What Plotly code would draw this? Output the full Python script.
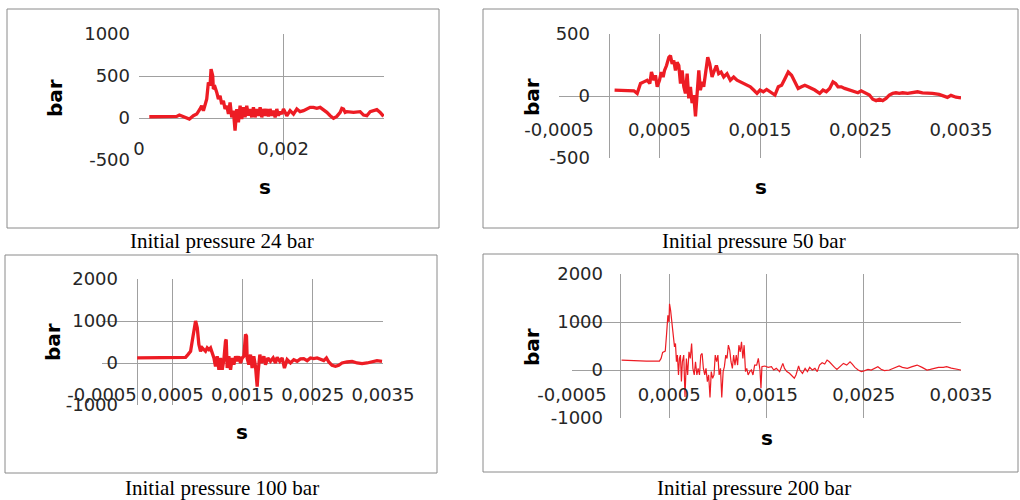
import plotly.graph_objects as go

# ---------------- data (time in s, pressure in bar) ----------------
t24 = [0.000143, 0.000292, 0.000523, 0.000560, 0.000616, 0.000699, 0.000755, 0.000801, 0.000847, 0.000870,
       0.000894, 0.000917, 0.000940, 0.000963, 0.000986, 0.001000, 0.001023, 0.001032, 0.001056, 0.001079,
       0.001102, 0.001125, 0.001148, 0.001171, 0.001194, 0.001218, 0.001241, 0.001264, 0.001287, 0.001310,
       0.001333, 0.001357, 0.001380, 0.001403, 0.001426, 0.001449, 0.001472, 0.001495, 0.001519, 0.001542,
       0.001565, 0.001588, 0.001611, 0.001634, 0.001658, 0.001681, 0.001704, 0.001727, 0.001750, 0.001773,
       0.001796, 0.001819, 0.001843, 0.001866, 0.001889, 0.001912, 0.001935, 0.001958, 0.001982, 0.002005,
       0.002051, 0.002097, 0.002144, 0.002190, 0.002236, 0.002283, 0.002329, 0.002375, 0.002421, 0.002468,
       0.002514, 0.002560, 0.002607, 0.002653, 0.002699, 0.002745, 0.002792, 0.002815, 0.002838, 0.002861,
       0.002884, 0.002977, 0.003069, 0.003116, 0.003162, 0.003208, 0.003255, 0.003301, 0.003347, 0.003394]
p24 = [15, 19, 19, 35, 15, -12, 27, 47, 107, 146,
       87, 146, 226, 424, 384, 583, 503, 345, 365, 305,
       226, 265, 166, 206, 107, 146, 47, 186, 8, 87,
       -151, 107, -52, 146, -12, 127, 8, 146, 27, 107,
       8, 127, 8, 107, 27, 127, 8, 107, 27, 107,
       19, 107, 27, 87, 8, 107, 27, 75, 47, 107,
       27, 87, 47, 107, 75, 87, 107, 127, 127, 115,
       127, 99, 67, 27, -4, 19, 67, 115, 107, 67,
       75, 67, 75, 35, 27, 75, 87, 99, 67, 19]

t50 = [0.000053, 0.000146, 0.000245, 0.000278, 0.000311, 0.000344, 0.000377, 0.000404, 0.000420, 0.000444,
       0.000460, 0.000477, 0.000500, 0.000517, 0.000536, 0.000550, 0.000570, 0.000593, 0.000609, 0.000626,
       0.000642, 0.000659, 0.000675, 0.000692, 0.000709, 0.000725, 0.000742, 0.000758, 0.000775, 0.000791,
       0.000808, 0.000824, 0.000841, 0.000858, 0.000874, 0.000891, 0.000907, 0.000924, 0.000940, 0.000957,
       0.000980, 0.001000, 0.001023, 0.001040, 0.001066, 0.001089, 0.001113, 0.001139, 0.001172, 0.001205,
       0.001238, 0.001271, 0.001305, 0.001338, 0.001371, 0.001404, 0.001437, 0.001470,
       0.001500, 0.001533, 0.001566, 0.001599, 0.001649, 0.001682, 0.001715, 0.001748, 0.001781, 0.001814,
       0.001847, 0.001880, 0.001913, 0.001946, 0.001979, 0.002012, 0.002045, 0.002094, 0.002127, 0.002160,
       0.002193, 0.002226, 0.002252, 0.002276, 0.002309, 0.002342, 0.002375, 0.002424, 0.002474, 0.002507,
       0.002540, 0.002589, 0.002622, 0.002655, 0.002688, 0.002721, 0.002754, 0.002787, 0.002820, 0.002853,
       0.002886, 0.002919, 0.002969, 0.003018, 0.003068, 0.003117, 0.003167, 0.003216, 0.003282, 0.003332,
       0.003365, 0.003400, 0.003450, 0.003500]
p50 = [48, 42, 42, 21, 101, 114, 127, 101, 193, 127,
       167, 74, 127, 193, 153, 206, 246, 312, 325, 259,
       286, 206, 272, 246, 101, 206, 74, 21, 180, -19,
       74, -58, 8, -164, -19, 206, 48, 114, 74, 180,
       312, 259, 153, 193, 246, 180, 193, 153, 180, 127,
       153, 127, 114, 101, 87, 74, 48, 21,
       48, 34, 53, 34, 8, 74, 87, 140, 193, 167,
       114, 61, 74, 87, 74, 61, 48, 21, 48, 34,
       61, 114, 101, 74, 74, 61, 53, 42, 26, 42,
       26, 8, -26, -37, -26, -37, -19, 8, 21, 26,
       21, 26, 21, 26, 34, 26, 26, 21, 13, 0,
       -11, 5, -10, -15]

t100 = [0.0, 0.000192, 0.000381, 0.000571, 0.000690, 0.000723, 0.000761, 0.000784, 0.000808, 0.000832,
        0.000856, 0.000879, 0.000903, 0.000927, 0.000951, 0.000974, 0.000998, 0.001022, 0.001045, 0.001069,
        0.001093, 0.001116, 0.001140, 0.001164, 0.001187, 0.001211, 0.001235, 0.001258, 0.001268, 0.001282,
        0.001306, 0.001330, 0.001353, 0.001377, 0.001401, 0.001424, 0.001448, 0.001472, 0.001495, 0.001519,
        0.001543, 0.001557, 0.001566, 0.001590, 0.001614, 0.001637, 0.001661, 0.001685, 0.001709, 0.001723,
        0.001747, 0.001770, 0.001804, 0.001827, 0.001861, 0.001898, 0.001936, 0.001969, 0.001993, 0.002031,
        0.002064, 0.002097, 0.002135, 0.002183, 0.002230, 0.002278, 0.002325, 0.002372, 0.002420, 0.002467,
        0.002514, 0.002562, 0.002609, 0.002657, 0.002695, 0.002728, 0.002775, 0.002823, 0.002870, 0.002917,
        0.002988, 0.003060, 0.003131, 0.003202, 0.003273, 0.003344, 0.003415, 0.003486]
p100 = [120, 120, 120, 120, 136, 200, 280, 520, 800, 1000,
        840, 440, 280, 360, 320, 280, 360, 320, 360, 240,
        120, -80, 160, -160, 120, -160, 80, 520, 560, -120,
        160, -160, 120, -40, 160, 40, 160, 0, 120, 160,
        680, 640, 120, -40, 200, -120, 160, -80, -560, -200,
        200, 0, 160, -40, 120, 40, 120, 0, 136, 40,
        120, -120, 80, 0, 80, 40, 96, 104, 56, 120,
        104, 120, 80, 56, 120, 24, -56, -80, -56, 0,
        24, 40, 0, -16, 0, 24, 56, 40]

t200 = [0.000010, 0.000128, 0.000264, 0.000399, 0.000416, 0.000432, 0.000459, 0.000473, 0.000486, 0.000497,
        0.000503, 0.000514, 0.000527, 0.000541, 0.000554, 0.000564, 0.000574, 0.000584, 0.000595, 0.000605,
        0.000615, 0.000625, 0.000635, 0.000649, 0.000662, 0.000676, 0.000689, 0.000703, 0.000716, 0.000730,
        0.000743, 0.000757, 0.000770, 0.000784, 0.000797, 0.000811, 0.000824, 0.000838, 0.000851, 0.000865,
        0.000878, 0.000892, 0.000905, 0.000919, 0.000932, 0.000946, 0.000960, 0.000973, 0.000987, 0.001000,
        0.001013, 0.001027, 0.001040, 0.001054, 0.001067, 0.001081, 0.001094, 0.001108, 0.001122, 0.001135,
        0.001149, 0.001162, 0.001176, 0.001189, 0.001203, 0.001216, 0.001230, 0.001243, 0.001257, 0.001270,
        0.001284, 0.001297, 0.001311, 0.001328, 0.001344, 0.001361, 0.001378,
        0.001399, 0.001416, 0.001433, 0.001443, 0.001453, 0.001483, 0.001517, 0.001551, 0.001574, 0.001601,
        0.001635, 0.001668, 0.001685, 0.001709, 0.001736, 0.001763, 0.001786, 0.001803, 0.001830, 0.001843,
        0.001870, 0.001897, 0.001921, 0.001944, 0.001971, 0.001998, 0.002022, 0.002045, 0.002072, 0.002099,
        0.002123, 0.002146, 0.002173, 0.002200, 0.002224, 0.002258, 0.002291, 0.002325, 0.002359, 0.002382,
        0.002409, 0.002443, 0.002476, 0.002510, 0.002544, 0.002577, 0.002611, 0.002645, 0.002678, 0.002712,
        0.002763, 0.002813, 0.002864, 0.002897, 0.002948, 0.002998, 0.003049, 0.003100, 0.003150, 0.003184,
        0.003218, 0.003268, 0.003318, 0.003352, 0.003400, 0.003450, 0.003500]
p200 = [207, 193, 186, 186, 241, 366, 393, 759, 1138, 1000,
        1380, 1242, 1000, 724, 483, 552, 172, 310, -103, 241,
        310, -241, 172, 310, -560, 241, -103, 379, 241, 552,
        34, -103, 172, -103, 34, -103, 310, 345, 34, -103,
        34, -241, -103, -570, -34, -172, -103, 310, 172, 310,
        -103, 34, -570, -34, 69, 310, 241, 517, 414, 172,
        34, 310, 103, 310, 103, 517, 379, 586, 241, 517,
        -34, 34, -103, -34, 0, -103, 103,
        103, 241, 0, -379, 69, 83, 55, 69, 0, 34,
        -34, 138, 34, -34, -69, -138, -172, -103, 83, 0,
        -69, 34, -34, 55, 0, 34, -34, 103, 152, 124,
        207, 172, 103, 55, 14, 69, 138, 103, 172, 124,
        55, 0, -34, -14, 14, 0, 34, 69, 14, -14,
        0, 34, 83, 55, 34, 69, 103, 55, 0, 14,
        34, 55, 55, 69, 40, 20, 0]

# tick labels
x24_vals = [0, 0.002]
x24_text = ["0", "0,002"]
x_vals = [-0.0005, 0.0005, 0.0015, 0.0025, 0.0035]
x_text = ["-0,0005", "0,0005", "0,0015", "0,0025", "0,0035"]
y24_vals = [-500, 0, 500, 1000]
y24_text = ["-500", "0", "500", "1000"]
y50_vals = [-500, 0, 500]
y50_text = ["-500", "0", "500"]
y_big_vals = [-1000, 0, 1000, 2000]
y_big_text = ["-1000", "0", "1000", "2000"]
captions = ["Initial pressure 24 bar", "Initial pressure 50 bar",
            "Initial pressure 100 bar", "Initial pressure 200 bar"]

# ---------------- layout geometry (pixels) ----------------
W, H = 1020, 500
def fx(px):
    return px / W
def fy(py):
    return 1 - py / H

RED = "#ed1c24"
GRID = "#a0a0a0"
BOX = "#8a8a8a"
TICKFONT = dict(family="DejaVu Sans", size=18, color="#262626")

panels = [
    dict(t=t24, p=p24, area=(139, 384, 34, 160), xr=[0, 0.0034], yr=[-500, 1000],
         xv=x24_vals, xt=x24_text, yv=y24_vals, yt=y24_text, xlab=147, ylab=127,
         box=(7, 439, 9, 228), s=(265, 187), bar=(55, 98), cap=(222, 241), lw=3.3),
    dict(t=t50, p=p50, area=(559, 961, 34, 158), xr=[-0.0005, 0.0035], yr=[-500, 500],
         xv=x_vals, xt=x_text, yv=y50_vals, yt=y50_text, xlab=128, ylab=587,
         box=(483, 1018, 9, 228), s=(761, 187), bar=(532, 97), cap=(754, 241), lw=3.3),
    dict(t=t100, p=p100, area=(102, 383, 279, 405), xr=[-0.0005, 0.0035], yr=[-1000, 2000],
         xv=x_vals, xt=x_text, yv=y_big_vals, yt=y_big_text, xlab=393, ylab=115,
         box=(5, 437, 255, 473), s=(242, 432), bar=(53, 342), cap=(222, 488), lw=3.3),
    dict(t=t200, p=p200, area=(572, 961, 274, 418), xr=[-0.0005, 0.0035], yr=[-1000, 2000],
         xv=x_vals, xt=x_text, yv=y_big_vals, yt=y_big_text, xlab=393, ylab=600,
         box=(483, 1018, 254, 472), s=(767, 438), bar=(532, 347), cap=(754, 488), lw=1.2),
]

fig = go.Figure()
layout = dict(width=W, height=H, margin=dict(l=0, r=0, t=0, b=0, pad=0, autoexpand=False),
              autosize=False, paper_bgcolor="white", plot_bgcolor="white", showlegend=False,
              shapes=[], annotations=[])

for i, pn in enumerate(panels, start=1):
    xa = "x" if i == 1 else f"x{i}"
    ya = "y" if i == 1 else f"y{i}"
    fig.add_trace(go.Scatter(x=pn["t"], y=pn["p"], mode="lines", xaxis=xa, yaxis=ya,
                             line=dict(color=RED, width=pn["lw"]), hoverinfo="skip"))
    l, r, t, b = pn["area"]
    xkey = "xaxis" if i == 1 else f"xaxis{i}"
    ykey = "yaxis" if i == 1 else f"yaxis{i}"
    xaxis = dict(domain=[fx(l), fx(r)], range=pn["xr"], anchor="free", automargin=False,
                 position=fy(pn["xlab"] - 11), tickmode="array", tickvals=pn["xv"], ticktext=pn["xt"],
                 ticks="", showline=False, tickfont=TICKFONT, fixedrange=True)
    if i == 1:
        xaxis.update(showgrid=False, zeroline=False,
                     minor=dict(tickmode="array", tickvals=[0.002], showgrid=True,
                                gridcolor=GRID, gridwidth=1, ticks=""))
    else:
        xaxis.update(showgrid=True, gridcolor=GRID, gridwidth=1,
                     zeroline=True, zerolinecolor=GRID, zerolinewidth=1)
    yaxis = dict(domain=[fy(b), fy(t)], range=pn["yr"], anchor="free", automargin=False,
                 position=fx(pn["ylab"] + 3), tickmode="array", tickvals=pn["yv"], ticktext=pn["yt"],
                 ticks="", showline=False, tickfont=TICKFONT, showgrid=True, gridcolor=GRID,
                 gridwidth=1, zeroline=True, zerolinecolor=GRID, zerolinewidth=1, fixedrange=True)
    layout[xkey] = xaxis
    layout[ykey] = yaxis

    bl, br, bt, bb = pn["box"]
    layout["shapes"].append(dict(type="rect", xref="paper", yref="paper",
                                 x0=fx(bl), x1=fx(br), y0=fy(bb), y1=fy(bt),
                                 line=dict(color=BOX, width=1), layer="below"))
    layout["annotations"].append(dict(text="<b>s</b>", x=fx(pn["s"][0]), y=fy(pn["s"][1]),
                                      xref="paper", yref="paper", showarrow=False,
                                      xanchor="center", yanchor="middle",
                                      font=dict(family="DejaVu Sans", size=20, color="black")))
    layout["annotations"].append(dict(text="<b>bar</b>", x=fx(pn["bar"][0]), y=fy(pn["bar"][1]),
                                      xref="paper", yref="paper", showarrow=False, textangle=-90,
                                      xanchor="center", yanchor="middle",
                                      font=dict(family="DejaVu Sans", size=20, color="black")))
    layout["annotations"].append(dict(text=captions[i - 1], x=fx(pn["cap"][0]), y=fy(pn["cap"][1]),
                                      xref="paper", yref="paper", showarrow=False,
                                      xanchor="center", yanchor="middle",
                                      font=dict(family="Liberation Serif", size=21, color="black")))

fig.update_layout(**layout)
fig.write_html("out.html", config={"displayModeBar": False},
               post_script="document.body.style.margin='0';document.body.style.overflow='hidden';")
